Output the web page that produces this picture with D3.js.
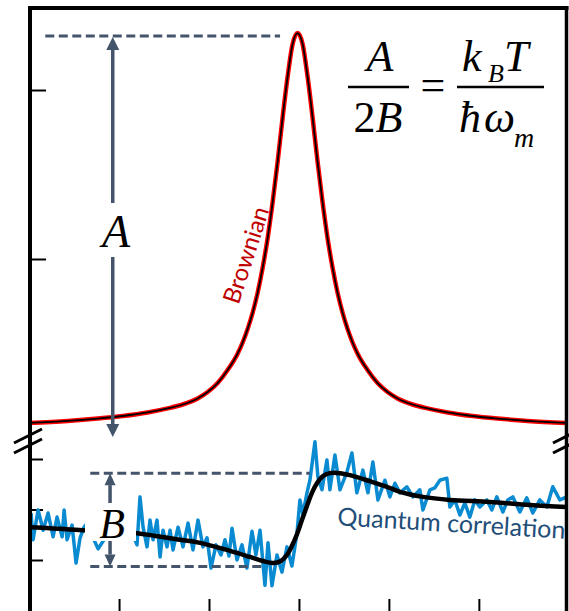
<!DOCTYPE html>
<html><head><meta charset="utf-8">
<script src="https://cdn.jsdelivr.net/npm/d3@7"></script>
<style>body{margin:0;background:#fff}svg{display:block}</style>
</head><body>
<svg id="c" width="569" height="611"></svg>
<script>
// ---------- data ----------
const xTicks = [-2, -1, 0, 1, 2];
const topTicks = [1, 2];
const bottomTicks = [-1, 0, 1];

// Brownian peak (upper panel), right half offsets from the centre and heights
const brownianOffset = [0, 0.056, 0.111, 0.167, 0.222, 0.278, 0.333, 0.389, 0.444, 0.5, 0.556, 0.611, 0.667,
                        0.778, 0.889, 1.0, 1.111, 1.278, 1.444, 1.667, 1.944, 2.222, 2.556, 2.99];
const brownianValue  = [2.337, 2.271, 2.079, 1.835, 1.576, 1.334, 1.124, 0.947, 0.801, 0.682, 0.585, 0.506, 0.440,
                        0.343, 0.266, 0.213, 0.175, 0.139, 0.116, 0.092, 0.071, 0.056, 0.042, 0.030];

// Quantum correlation, measured (noisy)
const quantumMeasured = [
 [-2.978,-0.07],[-2.956,-0.60],[-2.900,-0.01],[-2.844,-0.41],[-2.789,-0.07],[-2.733,-0.54],[-2.689,-0.15],[-2.633,-0.54],
 [-2.611,-0.01],[-2.578,-0.60],[-2.522,-0.31],[-2.478,-1.06],[-2.433,-0.56],[-2.389,-0.35],[-2.344,-0.25],[-2.289,-0.56],
 [-2.233,-0.78],[-2.167,-0.60],[-2.100,-0.17],[-2.022,-0.45],[-1.944,-0.05],[-1.867,-0.41],[-1.800,-0.70],[-1.767,0.25],
 [-1.733,-0.35],[-1.689,-0.74],[-1.656,-0.21],[-1.622,-0.60],[-1.578,-0.21],[-1.544,-0.94],[-1.511,-0.41],[-1.467,-0.74],
 [-1.433,-0.41],[-1.400,-0.80],[-1.344,-0.35],[-1.289,-0.74],[-1.233,-0.27],[-1.178,-0.80],[-1.122,-0.21],[-1.067,-0.74],
 [-1.022,-0.56],[-0.978,-1.16],[-0.922,-0.70],[-0.867,-0.90],[-0.822,-0.60],[-0.778,-0.92],[-0.744,-0.37],[-0.689,-1.00],
 [-0.633,-0.70],[-0.578,-1.16],[-0.522,-0.43],[-0.478,-0.90],[-0.433,-0.41],[-0.378,-1.50],[-0.344,-0.66],[-0.300,-1.51],
 [-0.244,-0.90],[-0.189,-1.24],[-0.133,-0.74],[-0.078,-1.12],[-0.022,-0.47],[0.011,0.19],[0.044,-0.09],[0.089,0.33],
 [0.122,0.58],[0.178,1.34],[0.211,0.64],[0.256,0.39],[0.311,0.98],[0.344,0.39],[0.400,1.08],[0.456,0.39],[0.533,0.74],
 [0.589,1.12],[0.644,0.33],[0.711,0.78],[0.767,0.33],[0.822,0.94],[0.878,0.19],[0.956,0.58],[1.011,0.25],[1.067,0.52],
 [1.122,0.33],[1.200,0.45],[1.267,0.25],[1.344,0.39],[1.378,-0.01],[1.456,0.39],[1.511,0.43],[1.567,0.58],[1.644,0.62],
 [1.678,0.05],[1.733,0.19],[1.789,-0.11],[1.844,0.13],[1.900,-0.15],[1.956,0.19],[2.011,0.05],[2.089,0.19],[2.144,-0.01],
 [2.200,0.25],[2.267,-0.05],[2.322,0.19],[2.378,0.25],[2.456,-0.05],[2.533,0.23],[2.600,-0.07],[2.678,0.19],[2.756,0.05],
 [2.822,0.45],[2.900,0.19],[2.978,0.25]
];

// Quantum correlation, fitted (smooth)
const quantumFit = [
 [-2.989,-0.35],[-2.767,-0.37],[-2.4,-0.41],[-2.1,-0.43],[-1.8,-0.47],[-1.322,-0.60],[-1.1,-0.66],[-0.767,-0.82],
 [-0.544,-0.94],[-0.4,-1.02],[-0.289,-1.06],[-0.2,-1.02],[-0.133,-0.90],[-0.078,-0.72],[-0.022,-0.49],[0.033,-0.21],
 [0.089,0.07],[0.144,0.33],[0.2,0.52],[0.267,0.66],[0.344,0.72],[0.456,0.72],[0.567,0.68],[0.789,0.56],[0.978,0.45],
 [1.122,0.35],[1.378,0.25],[1.678,0.19],[2.122,0.15],[2.567,0.09],[2.978,0.05]
];

// annotation levels (data units)
const levelA = 2.32, baseA = -0.053, arrowAx = -2.07;
const levelBtop = 0.72, levelBbot = -1.13, arrowBx = -2.1;

// ---------- drawing ----------
const svg = d3.select('#c');
const W = 569, H = 611;
const x = d3.scaleLinear().domain([-2.99, 2.98]).range([30, 567]);
const yTop = d3.scaleLinear().domain([0, 2.5]).range([428, 5.5]);
const yBot = d3.scaleLinear().domain([-1, 1]).range([560, 459]);
const peakX = -0.015;

const SLATE = '#44546a';
svg.append('rect').attr('width', W).attr('height', H).attr('fill', '#fff');

// ticks
const gx = svg.append('g').attr('transform', `translate(0,${H})`)
  .call(d3.axisBottom(x).tickValues(xTicks).tickSizeInner(-12).tickSizeOuter(0).tickFormat(''));
gx.select('.domain').remove();
gx.selectAll('line').attr('stroke', '#000').attr('stroke-width', 2);

const gyT = svg.append('g').attr('transform', 'translate(30,0)')
  .call(d3.axisLeft(yTop).tickValues(topTicks).tickSizeInner(-16).tickSizeOuter(0).tickFormat(''));
gyT.select('.domain').remove();
gyT.selectAll('line').attr('stroke', '#000').attr('stroke-width', 2);

const gyB = svg.append('g').attr('transform', 'translate(30,0)')
  .call(d3.axisLeft(yBot).tickValues(bottomTicks).tickSizeInner(-13).tickSizeOuter(0).tickFormat(''));
gyB.select('.domain').remove();
gyB.selectAll('line').attr('stroke', '#000').attr('stroke-width', 2);

// Brownian curve (symmetric peak)
const brown = [];
for (let i = brownianOffset.length - 1; i > 0; i--) brown.push([peakX - brownianOffset[i], brownianValue[i]]);
for (let i = 0; i < brownianOffset.length; i++) brown.push([peakX + brownianOffset[i], brownianValue[i]]);
const lineTop = d3.line().x(d => x(d[0])).y(d => yTop(d[1])).curve(d3.curveMonotoneX);
svg.append('path').attr('d', lineTop(brown)).attr('fill', 'none').attr('stroke', '#ff0000').attr('stroke-width', 4.5);
svg.append('path').attr('d', lineTop(brown)).attr('fill', 'none').attr('stroke', '#000').attr('stroke-width', 1.8);

// Quantum correlation
const lineBotRaw = d3.line().x(d => x(d[0])).y(d => yBot(d[1]));
svg.append('path').attr('d', lineBotRaw(quantumMeasured)).attr('fill', 'none')
  .attr('stroke', '#0a8bd1').attr('stroke-width', 3.5).attr('stroke-linejoin', 'round');
const lineBotFit = d3.line().x(d => x(d[0])).y(d => yBot(d[1])).curve(d3.curveCatmullRom.alpha(0.5));
svg.append('path').attr('d', lineBotFit(quantumFit)).attr('fill', 'none')
  .attr('stroke', '#000').attr('stroke-width', 4.5);

// dashed guides
function dash(x1, x2, yPix) {
  svg.append('line').attr('x1', x(x1)).attr('x2', x(x2)).attr('y1', yPix).attr('y2', yPix)
    .attr('stroke', SLATE).attr('stroke-width', 3).attr('stroke-dasharray', '9,4.5');
}
dash(-2.82, -0.21, yTop(levelA));
dash(-2.32, 0.12, yBot(levelBtop));
dash(-2.32, -0.38, yBot(levelBbot));

// arrows
function arrow(xp, y1, y2, hw, hl) {
  svg.append('line').attr('x1', xp).attr('x2', xp).attr('y1', y1 + hl).attr('y2', y2 - hl)
    .attr('stroke', SLATE).attr('stroke-width', 3.5);
  svg.append('path').attr('d', `M${xp},${y1} L${xp - hw},${y1 + hl} L${xp + hw},${y1 + hl} Z`).attr('fill', SLATE);
  svg.append('path').attr('d', `M${xp},${y2} L${xp - hw},${y2 - hl} L${xp + hw},${y2 - hl} Z`).attr('fill', SLATE);
}
arrow(x(arrowAx), yTop(levelA) + 1, yTop(baseA), 6.5, 13);
arrow(x(arrowBx), yBot(levelBtop), yBot(levelBbot), 5.5, 12);

// label backgrounds + labels A, B
svg.append('rect').attr('x', 95).attr('y', 203).attr('width', 42).attr('height', 54).attr('fill', '#fff');
svg.append('text').attr('x', 116).attr('y', 247).attr('text-anchor', 'middle')
  .attr('font-family', 'Liberation Serif').attr('font-style', 'italic').attr('font-size', 46).text('A');
svg.append('rect').attr('x', 85).attr('y', 503).attr('width', 51).attr('height', 38).attr('fill', '#fff');
svg.append('text').attr('x', 112).attr('y', 538).attr('text-anchor', 'middle')
  .attr('font-family', 'Liberation Serif').attr('font-style', 'italic').attr('font-size', 42).text('B');

// curve labels
svg.append('text').attr('transform', 'translate(246,255) rotate(-72)').attr('text-anchor', 'middle')
  .attr('dy', '0.35em').attr('font-family', 'Lato').attr('font-size', 24).attr('fill', '#c00000').text('Brownian');
svg.append('text').attr('transform', 'translate(451,532) rotate(3.4)').attr('text-anchor', 'middle')
  .attr('font-family', 'Lato').attr('font-size', 25).attr('fill', '#1f4e79').text('Quantum  correlation');

// formula
const F = svg.append('g').attr('font-family', 'Liberation Serif').attr('fill', '#000');
function t(s, xp, yp, size, italic, anchor) {
  F.append('text').attr('x', xp).attr('y', yp).attr('font-size', size)
    .attr('font-style', italic ? 'italic' : 'normal').attr('text-anchor', anchor || 'start').text(s);
}
t('A', 380, 71, 44, true, 'middle');
const tb = F.append('text').attr('x', 378).attr('y', 132).attr('font-size', 44).attr('text-anchor', 'middle');
tb.append('tspan').text('2');
tb.append('tspan').attr('font-style', 'italic').text('B');
F.append('line').attr('x1', 348).attr('x2', 409).attr('y1', 87).attr('y2', 87).attr('stroke', '#000').attr('stroke-width', 2.5);
t('=', 433, 100, 44, false, 'middle');
F.append('line').attr('x1', 457).attr('x2', 544).attr('y1', 87).attr('y2', 87).attr('stroke', '#000').attr('stroke-width', 2.5);
t('k', 462, 71, 44, true);
t('B', 488, 82, 26, true);
t('T', 504, 71, 44, true);
t('\u0127', 459, 132, 44, true);
t('\u03c9', 484, 132, 44, true);
t('m', 514, 147, 28, true);

// frame
svg.append('line').attr('x1', 28).attr('x2', 568.5).attr('y1', 8).attr('y2', 8).attr('stroke', '#000').attr('stroke-width', 4);
svg.append('line').attr('x1', 30).attr('x2', 30).attr('y1', 6).attr('y2', H).attr('stroke', '#000').attr('stroke-width', 4);
svg.append('line').attr('x1', 566.5).attr('x2', 566.5).attr('y1', 6).attr('y2', H).attr('stroke', '#000').attr('stroke-width', 3.5);

// axis break marks
[28, 567].forEach(cx => {
  [436, 446].forEach(cy => {
    svg.append('line').attr('x1', cx - 14).attr('y1', cy + 7).attr('x2', cx + 14).attr('y2', cy - 7)
      .attr('stroke', '#000').attr('stroke-width', 3);
  });
});
</script>
</body></html>
